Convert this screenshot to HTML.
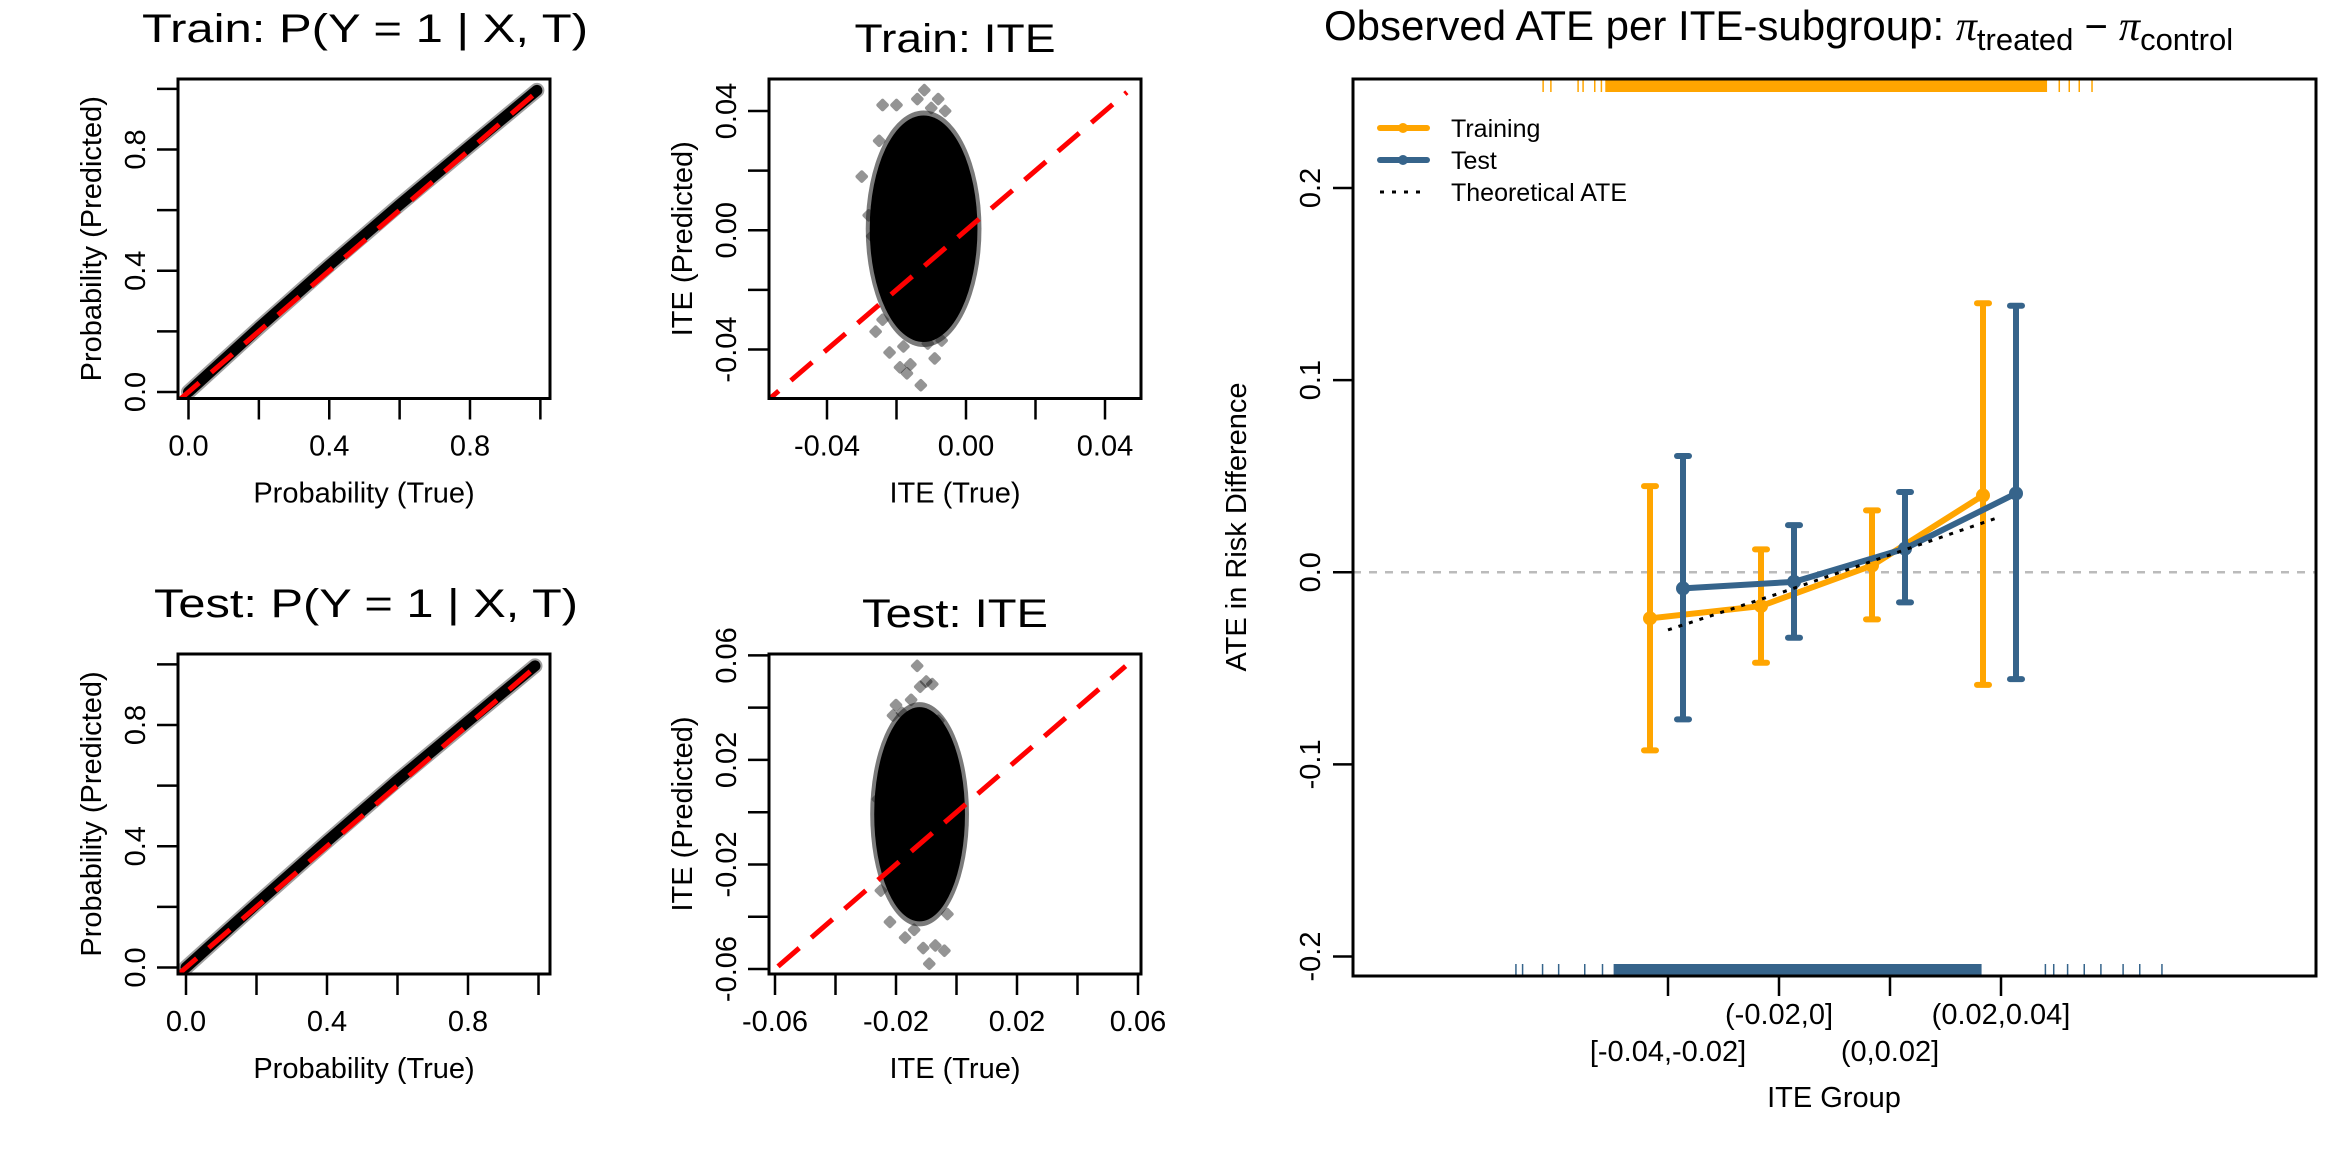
<!DOCTYPE html>
<html><head><meta charset="utf-8"><style>
html,body{margin:0;padding:0;background:#fff;}
svg{display:block;font-family:"Liberation Sans",Arial,sans-serif;}
</style></head><body>
<svg id="fig" width="2350" height="1150" viewBox="0 0 2350 1150" xmlns="http://www.w3.org/2000/svg"></svg>
<script>
// ---------- data ----------
const probTicks = [0.0, 0.4, 0.8];
const probMinor = [0.0, 0.2, 0.4, 0.6, 0.8, 1.0];
const trainBandX = [0.0, 0.2, 0.4, 0.6, 0.8, 0.99];
const trainBandY = [0.0, 0.212, 0.418, 0.618, 0.812, 0.995];
const testBandX = [0.0, 0.2, 0.4, 0.6, 0.8, 0.99];
const testBandY = [0.0, 0.21, 0.416, 0.618, 0.812, 0.995];

const trainIteTicks = [-0.04, 0.00, 0.04];
const trainIteMinor = [-0.04, -0.02, 0.0, 0.02, 0.04];
const trainCloud = {cx: -0.0122, cy: 0.0005, rx: 0.0155, ry: 0.038};
const trainOutX = [-0.024,-0.020,-0.014,-0.012,-0.008,-0.010,-0.006,-0.030,-0.028,-0.027,-0.026,-0.022,-0.019,-0.017,-0.013,-0.009,-0.011,-0.016,-0.018,-0.007,-0.003,-0.002,-0.025,-0.024];
const trainOutY = [0.042,0.042,0.044,0.047,0.044,0.041,0.040,0.018,0.005,-0.002,-0.034,-0.041,-0.046,-0.048,-0.052,-0.043,-0.038,-0.045,-0.039,-0.037,-0.002,0.012,0.030,-0.030];

const testIteTicks = [-0.06, -0.02, 0.02, 0.06];
const testIteMinor = [-0.06,-0.04,-0.02,0.0,0.02,0.04,0.06];
const testCloud = {cx: -0.0122, cy: -0.0008, rx: 0.0150, ry: 0.041};
const testOutX = [-0.013,-0.012,-0.010,-0.008,-0.015,-0.021,-0.018,-0.006,-0.017,-0.011,-0.007,-0.014,-0.009,-0.004,-0.022,-0.020,-0.003,-0.026,-0.025,-0.002];
const testOutY = [0.056,0.048,0.050,0.049,0.043,0.037,0.038,0.035,-0.048,-0.052,-0.051,-0.045,-0.058,-0.053,-0.042,0.041,-0.039,0.005,-0.030,0.010];

const groups = ["[-0.04,-0.02]","(-0.02,0]","(0,0.02]","(0.02,0.04]"];
const trainATE = [-0.024, -0.0176, 0.0035, 0.040];
const trainLo = [-0.0927, -0.0471, -0.0245, -0.0586];
const trainHi = [0.0448, 0.0119, 0.0322, 0.140];
const testATE = [-0.0084, -0.005, 0.0123, 0.041];
const testLo = [-0.0766, -0.0341, -0.0157, -0.0556];
const testHi = [0.0605, 0.0245, 0.0418, 0.1387];
const theoATE = [-0.030, -0.011, 0.009, 0.029];
const ateTicks = [-0.2, -0.1, 0.0, 0.1, 0.2];
const ateTickLabels = ["-0.2","-0.1","0.0","0.1","0.2"];
const rugTrainSparse = [-0.0525,-0.0511,-0.0462,-0.0453,-0.0432,-0.0420,0.0405,0.0423,0.0441,0.0464];
const rugTestSparse = [-0.0574,-0.0562,-0.0526,-0.0497,-0.0450,-0.0418,0.0380,0.0395,0.0420,0.0450,0.0480,0.0520,0.0550,0.0590];
const rugTrainDense = [-0.0413, 0.0383];
const rugTestDense = [-0.0398, 0.0265];

// ---------- helpers ----------
const NS = "http://www.w3.org/2000/svg";
const svg = document.getElementById("fig");
function mk(tag, attrs, parent, text){
  const e = document.createElementNS(NS, tag);
  for (const k in attrs) e.setAttribute(k, attrs[k]);
  if (text !== undefined) e.textContent = text;
  (parent || svg).appendChild(e);
  return e;
}
function lin(d0,d1,p0,p1){ return v => p0 + (v-d0)/(d1-d0)*(p1-p0); }
function fmt2(v){ return v.toFixed(2); }

function panel(o){
  const g = mk("g", {});
  
  
  const clip = mk("clipPath", {id: o.name+"-clip"}, g);
  mk("rect", {x:o.box[0], y:o.box[1], width:o.box[2]-o.box[0], height:o.box[3]-o.box[1]}, clip);
  const t = mk("text", {x:o.titleX, y:o.titleY, "font-size":40, "text-anchor":"middle", textLength:o.titleW, lengthAdjust:"spacingAndGlyphs"}, g, o.title);
  
  
  const marks = mk("g", {"clip-path":"url(#"+o.name+"-clip)"}, g);
  o.draw(marks);
  const rl = mk("line", {x1:o.sx(o.refA), y1:o.sy(o.refA), x2:o.sx(o.refB), y2:o.sy(o.refB), stroke:"#ff0000", "stroke-width":5, "stroke-dasharray":"28 16"}, marks);
  
  
  const b = mk("rect", {x:o.box[0], y:o.box[1], width:o.box[2]-o.box[0], height:o.box[3]-o.box[1], fill:"none", stroke:"#000", "stroke-width":3}, g);
  
  
  o.xMinor.forEach(v=>{
    const l = mk("line",{x1:o.sx(v),x2:o.sx(v),y1:o.box[3],y2:o.box[3]+21,stroke:"#000","stroke-width":2.5},g);
    
    
  });
  o.xTicks.forEach(v=>{
    const tx = mk("text",{x:o.sx(v),y:o.box[3]+57,"font-size":29,"text-anchor":"middle"},g,o.fmt(v));
    
    
  });
  o.yMinor.forEach(v=>{
    const l = mk("line",{x1:o.box[0]-21,x2:o.box[0],y1:o.sy(v),y2:o.sy(v),stroke:"#000","stroke-width":2.5},g);
    
    
  });
  o.yTicks.forEach(v=>{
    const x = o.box[0]-33, y = o.sy(v);
    const tx = mk("text",{x:x,y:y,"font-size":29,"text-anchor":"middle",transform:`rotate(-90 ${x} ${y})`},g,o.fmt(v));
    
    
  });
  const xt = mk("text",{x:(o.box[0]+o.box[2])/2,y:o.box[3]+104,"font-size":29,"text-anchor":"middle"},g,o.xlab);
  
  
  const yx = o.box[0]-77, yy=(o.box[1]+o.box[3])/2;
  const yt = mk("text",{x:yx,y:yy,"font-size":29,"text-anchor":"middle",transform:`rotate(-90 ${yx} ${yy})`},g,o.ylab);
  
  
}

function bandDraw(bx, by, sx, sy){
  return function(m){
    const pts = bx.map((v,i)=>sx(v)+","+sy(by[i])).join(" ");
    const p1 = mk("polyline",{points:pts,fill:"none",stroke:"#444","stroke-opacity":0.5,"stroke-width":15,"stroke-linecap":"round"},m);
    
    
    const p2 = mk("polyline",{points:pts,fill:"none",stroke:"#000","stroke-width":11,"stroke-linecap":"round"},m);
    
    
  };
}
function cloudDraw(c, ox, oy, sx, sy){
  return function(m){
    const cx=sx(c.cx), cy=sy(c.cy);
    const rx=Math.abs(sx(c.cx+c.rx)-cx), ry=Math.abs(sy(c.cy+c.ry)-cy);
    ox.forEach((v,i)=>{
      const p = mk("rect",{x:sx(v)-5,y:sy(oy[i])-5,width:10,height:10,rx:2,fill:"#000","fill-opacity":0.42,transform:`rotate(45 ${sx(v)} ${sy(oy[i])})`},m);
      
      
    });
    const e1 = mk("ellipse",{cx:cx,cy:cy,rx:rx+4,ry:ry+5,fill:"#222","fill-opacity":0.6},m);
    
    
    const e2 = mk("ellipse",{cx:cx,cy:cy,rx:rx,ry:ry,fill:"#000"},m);
    
    
  };
}

(function(){
  const sx = lin(0,0.8,188.5,470), sy = lin(0,0.8,392,149.5);
  panel({name:"train-prob-panel", box:[178,79,550,398.5], title:"Train:  P(Y = 1 | X, T)", titleX:365, titleY:42, titleW:446,
    sx, sy, xTicks:probTicks, xMinor:probMinor, yTicks:probTicks, yMinor:probMinor, fmt:v=>v.toFixed(1),
    xlab:"Probability (True)", ylab:"Probability (Predicted)", refA:-0.03, refB:0.993,
    draw: bandDraw(trainBandX, trainBandY, sx, sy)});
})();
(function(){
  const sx = lin(-0.04,0.04,827,1105), sy = lin(-0.04,0.04,349.5,111);
  panel({name:"train-ite-panel", box:[769,79,1141,398.5], title:"Train: ITE", titleX:955, titleY:52, titleW:201,
    sx, sy, xTicks:trainIteTicks, xMinor:trainIteMinor, yTicks:trainIteTicks, yMinor:trainIteMinor, fmt:fmt2,
    xlab:"ITE (True)", ylab:"ITE (Predicted)", refA:-0.06, refB:0.0463,
    draw: cloudDraw(trainCloud, trainOutX, trainOutY, sx, sy)});
})();
(function(){
  const sx = lin(0,0.8,186,468), sy = lin(0,0.8,967.5,725);
  panel({name:"test-prob-panel", box:[178,654,550,974], title:"Test:  P(Y = 1 | X, T)", titleX:366, titleY:617, titleW:424,
    sx, sy, xTicks:probTicks, xMinor:probMinor, yTicks:probTicks, yMinor:probMinor, fmt:v=>v.toFixed(1),
    xlab:"Probability (True)", ylab:"Probability (Predicted)", refA:-0.03, refB:0.993,
    draw: bandDraw(testBandX, testBandY, sx, sy)});
})();
(function(){
  const sx = lin(-0.06,0.06,775,1138), sy = lin(-0.06,0.06,969,655.4);
  panel({name:"test-ite-panel", box:[769,654,1141,974], title:"Test: ITE", titleX:955, titleY:627, titleW:186,
    sx, sy, xTicks:testIteTicks, xMinor:testIteMinor, yTicks:testIteTicks, yMinor:testIteMinor, fmt:fmt2,
    xlab:"ITE (True)", ylab:"ITE (Predicted)", refA:-0.07, refB:0.0559,
    draw: cloudDraw(testCloud, testOutX, testOutY, sx, sy)});
})();

(function(){
  const box=[1353,79,2316,976];
  const gx = i => 1668 + i*111;
  const ux = lin(-0.03,0.03,1668,2001);
  const sy = lin(-0.2,0.2,956.5,188);
  const ORANGE="#FFA500", BLUE="#36648B";
  const g = mk("g",{});
  
  

  const title = mk("text",{x:1324,y:40,"font-size":42},g);
  
  
  mk("tspan",{},title,"Observed ATE per ITE-subgroup: ");
  mk("tspan",{"font-family":"Liberation Serif, serif","font-style":"italic"},title,"π");
  mk("tspan",{"font-size":31,dy:10},title,"treated");
  mk("tspan",{"font-size":40,dy:-10},title," − ");
  mk("tspan",{"font-family":"Liberation Serif, serif","font-style":"italic"},title,"π");
  mk("tspan",{"font-size":31,dy:10},title,"control");

  const z = mk("line",{x1:box[0],x2:box[2],y1:sy(0),y2:sy(0),stroke:"#bbbbbb","stroke-width":2.5,"stroke-dasharray":"8 8"},g);
  
  

  const rt = mk("rect",{x:ux(rugTrainDense[0]),y:box[1],width:ux(rugTrainDense[1])-ux(rugTrainDense[0]),height:13,fill:ORANGE},g);
  
  
  rugTrainSparse.forEach(v=>{
    const l = mk("line",{x1:ux(v),x2:ux(v),y1:box[1],y2:box[1]+13,stroke:ORANGE,"stroke-width":1.5},g);
    
    
  });
  const rb = mk("rect",{x:ux(rugTestDense[0]),y:box[3]-12,width:ux(rugTestDense[1])-ux(rugTestDense[0]),height:12,fill:BLUE},g);
  
  
  rugTestSparse.forEach(v=>{
    const l = mk("line",{x1:ux(v),x2:ux(v),y1:box[3]-12,y2:box[3],stroke:BLUE,"stroke-width":1.5},g);
    
    
  });

  function series(vals, lo, hi, off, col, name){
    lo.forEach((v,i)=>{
      const x=gx(i)+off;
      const e = mk("line",{x1:x,x2:x,y1:sy(lo[i]),y2:sy(hi[i]),stroke:col,"stroke-width":6},g);
      
      
      [lo[i],hi[i]].forEach(c=>{
        const cp = mk("line",{x1:x-6,x2:x+6,y1:sy(c),y2:sy(c),stroke:col,"stroke-width":6,"stroke-linecap":"round"},g);
        
        
      });
    });
    const pts = vals.map((v,i)=>(gx(i)+off)+","+sy(v)).join(" ");
    const pl = mk("polyline",{points:pts,fill:"none",stroke:col,"stroke-width":6},g);
    
    
    vals.forEach((v,i)=>{
      const c = mk("circle",{cx:gx(i)+off,cy:sy(v),r:7,fill:col},g);
      
      
    });
  }
  series(trainATE, trainLo, trainHi, -18, ORANGE, "training");
  series(testATE, testLo, testHi, 15, BLUE, "test");
  const th = mk("polyline",{points:theoATE.map((v,i)=>gx(i)+","+sy(v)).join(" "),fill:"none",stroke:"#000","stroke-width":3,"stroke-dasharray":"4 7"},g);
  
  

  const b = mk("rect",{x:box[0],y:box[1],width:box[2]-box[0],height:box[3]-box[1],fill:"none",stroke:"#000","stroke-width":3},g);
  
  

  ateTicks.forEach((v,i)=>{
    const l = mk("line",{x1:box[0]-20,x2:box[0],y1:sy(v),y2:sy(v),stroke:"#000","stroke-width":2.5},g);
    
    
    const x=1320, y=sy(v);
    const t = mk("text",{x:x,y:y,"font-size":29,"text-anchor":"middle",transform:`rotate(-90 ${x} ${y})`},g,ateTickLabels[i]);
    
    
  });
  groups.forEach((s,i)=>{
    const l = mk("line",{x1:gx(i),x2:gx(i),y1:box[3],y2:box[3]+20,stroke:"#000","stroke-width":2.5},g);
    
    
    const t = mk("text",{x:gx(i),y:(i%2===0)?1061:1024,"font-size":29,"text-anchor":"middle"},g,s);
    
    
  });
  const xt = mk("text",{x:1834,y:1107,"font-size":29,"text-anchor":"middle"},g,"ITE Group");
  
  
  const yt = mk("text",{x:1246,y:527,"font-size":29,"text-anchor":"middle",transform:"rotate(-90 1246 527)"},g,"ATE in Risk Difference");
  
  

  const lg = mk("g",{},g);
  
  
  [["Training",ORANGE,128],["Test",BLUE,160]].forEach(([lab,col,y])=>{
    const ln = mk("line",{x1:1380,x2:1427,y1:y,y2:y,stroke:col,"stroke-width":6,"stroke-linecap":"round"},lg);
    
    
    mk("circle",{cx:1403,cy:y,r:5,fill:col},lg);
    const t = mk("text",{x:1451,y:y+9,"font-size":25},lg,lab);
    
    
  });
  const dl = mk("line",{x1:1380,x2:1427,y1:192,y2:192,stroke:"#000","stroke-width":3,"stroke-dasharray":"4 8"},lg);
  
  
  const tt = mk("text",{x:1451,y:201,"font-size":25},lg,"Theoretical ATE");
  
  
})();
</script>
</body></html>
